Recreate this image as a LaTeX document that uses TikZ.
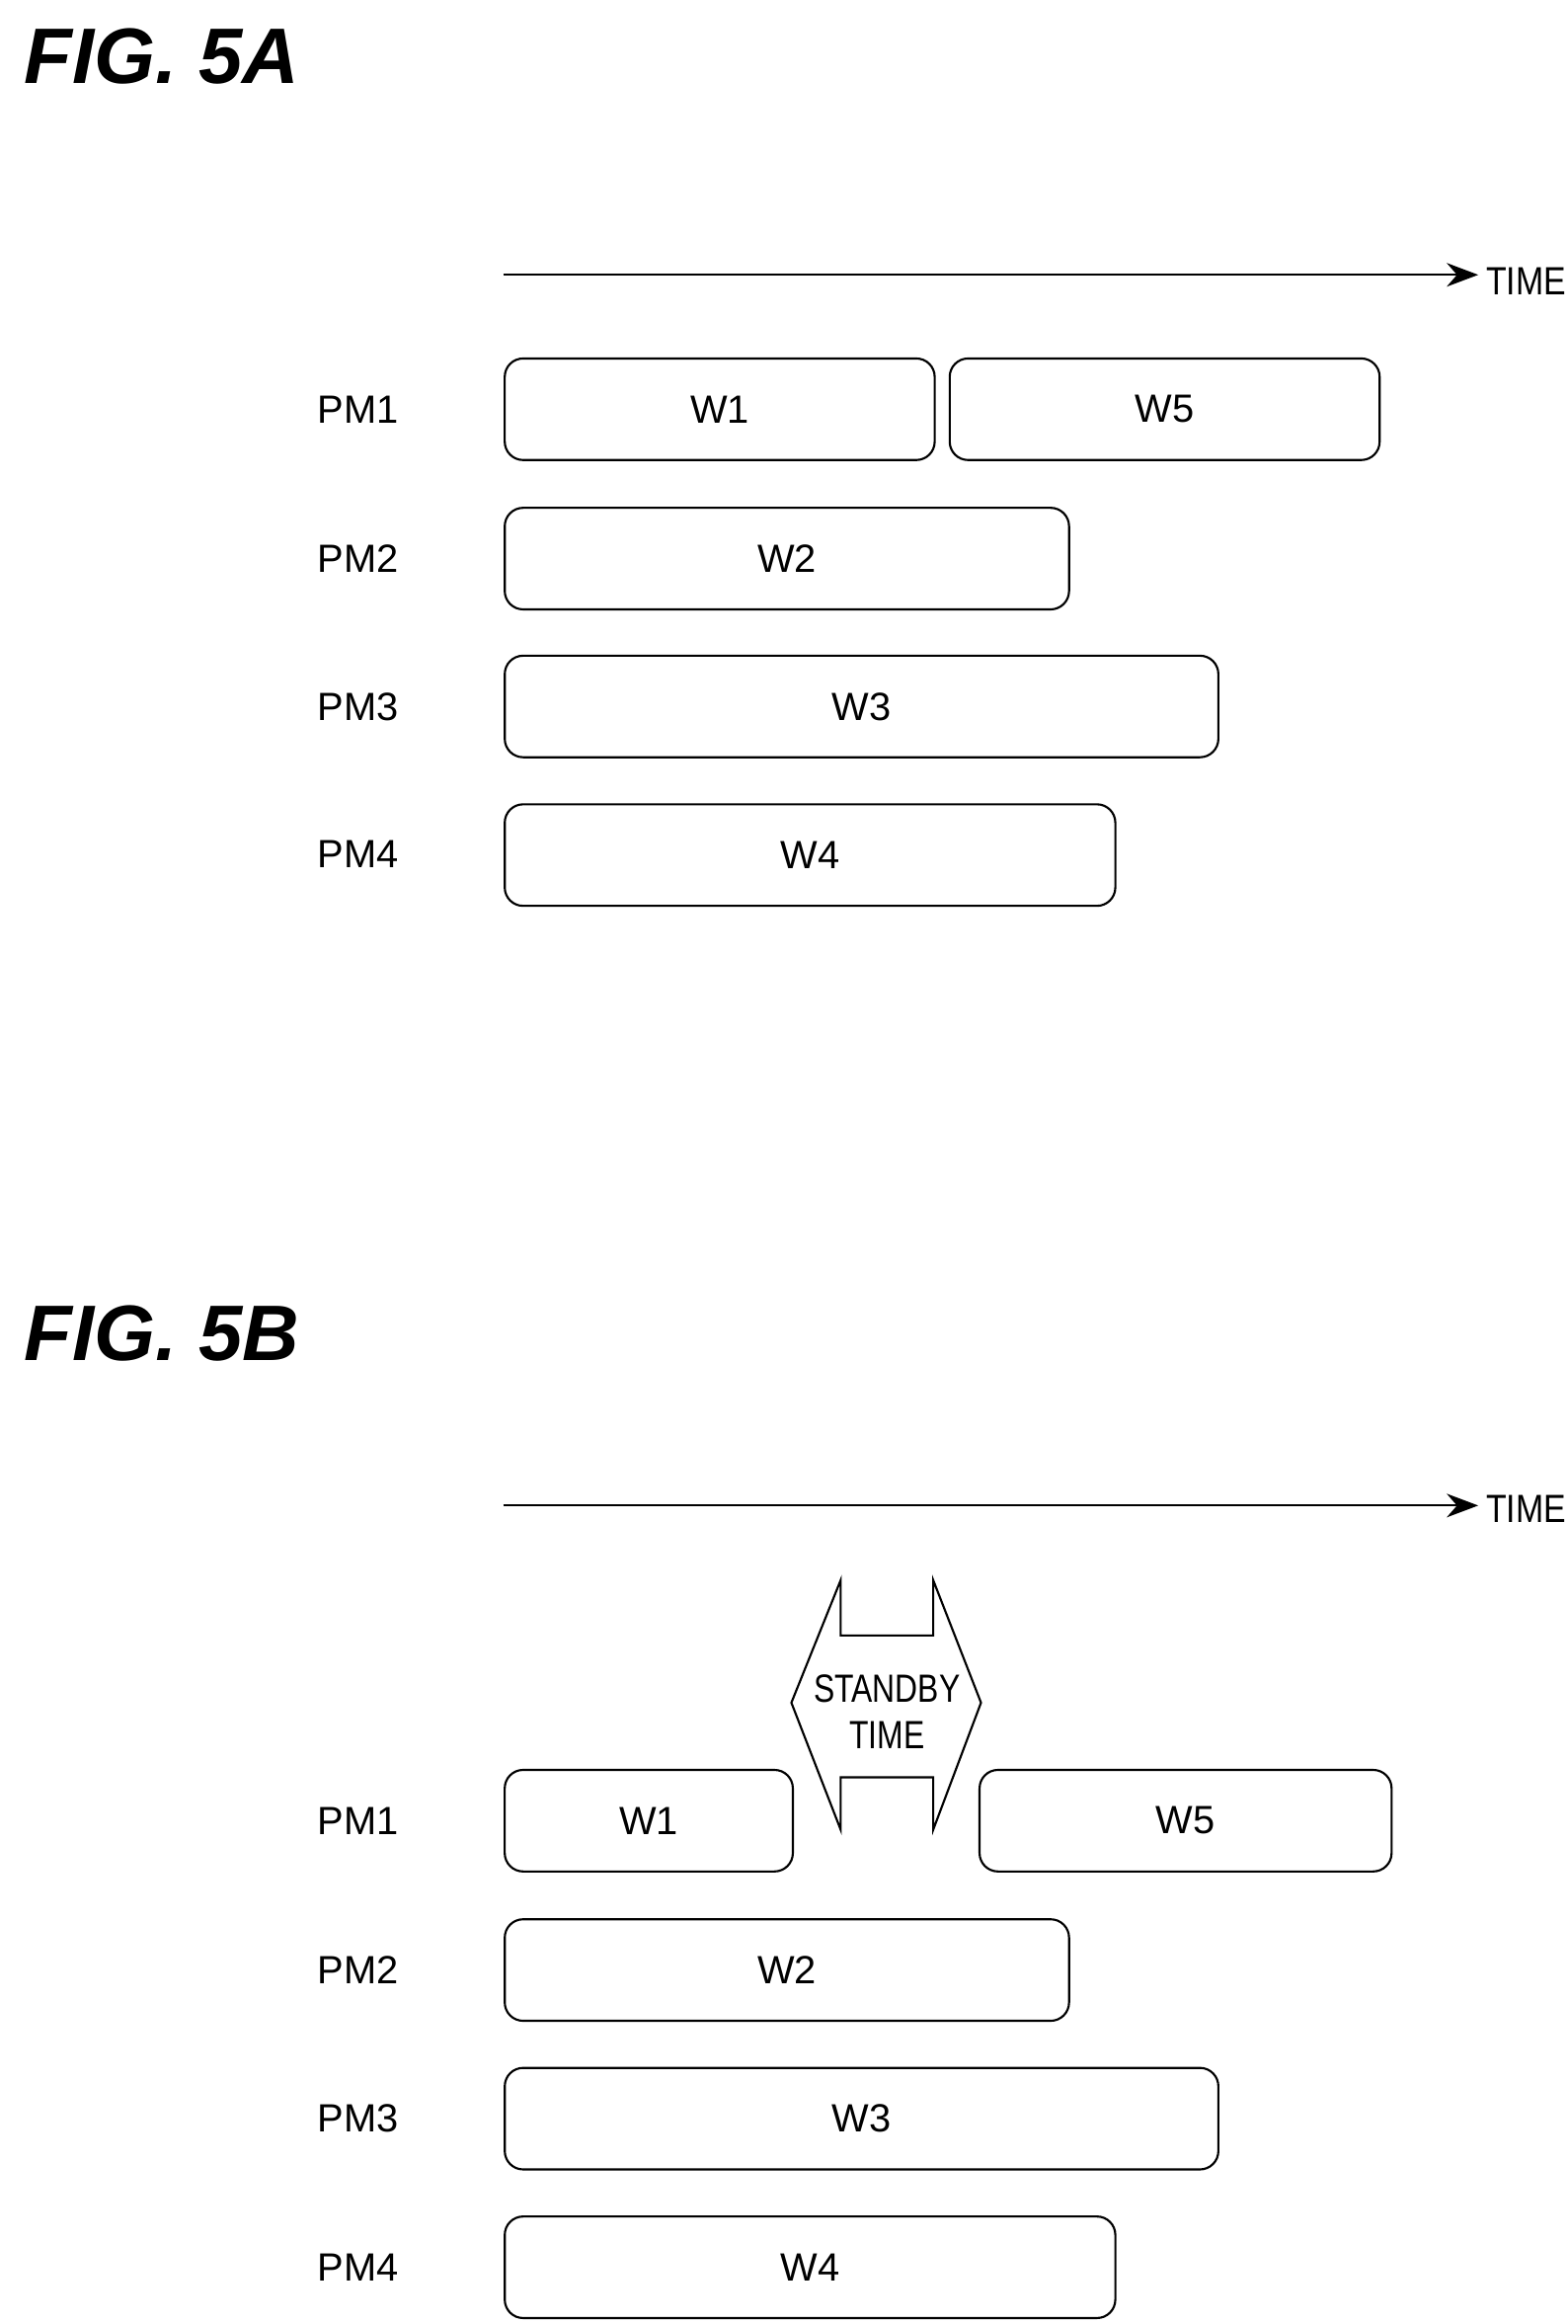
\documentclass[tikz,border=0pt]{standalone}
\usepackage{fontspec}
\setmainfont{Liberation Sans}
\usetikzlibrary{arrows.meta}
\tikzset{
  bar/.style={draw, thick, rounded corners=7pt, minimum height=1.36cm, inner sep=0pt, font=\fontsize{15}{15}\selectfont},
  lbl/.style={font=\fontsize{15}{15}\selectfont},
  fig/.style={anchor=west, font=\fontsize{30}{30}\selectfont\bfseries\itshape},
  axis/.style={thick, -{Stealth[length=12pt]}}
}
\begin{document}
\begin{tikzpicture}[x=0.02cm,y=-0.02cm]
  \useasboundingbox (0,0) rectangle (1050,1556);
  % titles
  \node[fig] (figA) at (10,38) {FIG. 5A};
  \node[fig] (figB) at (10,893) {FIG. 5B};
  % time axes
  \coordinate (sA) at (337,184);
  \node[lbl, anchor=west, xscale=.85] (timeA) at (990,188) {TIME};
  \draw[axis] (sA) -- (timeA.west |- sA);
  \coordinate (sB) at (337,1008);
  \node[lbl, anchor=west, xscale=.85] (timeB) at (990,1010) {TIME};
  \draw[axis] (sB) -- (timeB.west |- sB);
  % labels
  \foreach \n/\y in {1/274,2/374,3/473,4/572} {
    \node[lbl] (pmA\n) at (240,\y) {PM\n};
  }
  \foreach \n/\y in {1/1219,2/1319,3/1418,4/1518} {
    \node[lbl] (pmB\n) at (240,\y) {PM\n};
  }
  % bars 5A
  \node[bar, minimum width=5.76cm] (a1) at (482,274) {W1};
  \node[bar, minimum width=5.76cm] (a5) at (780,274) {W5};
  \node[bar, minimum width=7.56cm] (a2) at (527,374) {W2};
  \node[bar, minimum width=9.56cm] (a3) at (577,473) {W3};
  \node[bar, minimum width=8.18cm] (a4) at (542.5,572.5) {W4};
  % bars 5B
  \node[bar, minimum width=3.86cm] (b1) at (434.5,1219) {W1};
  \node[bar, minimum width=5.52cm] (b5) at (794,1219) {W5};
  \node[bar, minimum width=7.56cm] (b2) at (527,1319) {W2};
  \node[bar, minimum width=9.56cm] (b3) at (577,1418.5) {W3};
  \node[bar, minimum width=8.18cm] (b4) at (542.5,1518) {W4};
  % standby time
  \draw[thick] (530,1140) -- (563,1058) -- (563,1095) -- (625,1095) -- (625,1058)
    -- (657,1140) -- (625,1225) -- (625,1190) -- (563,1190) -- (563,1225) -- cycle;
  \node[lbl, align=center, xscale=.8] (standby) at (594,1146) {STANDBY\\[3pt]TIME};
\end{tikzpicture}
\end{document}
